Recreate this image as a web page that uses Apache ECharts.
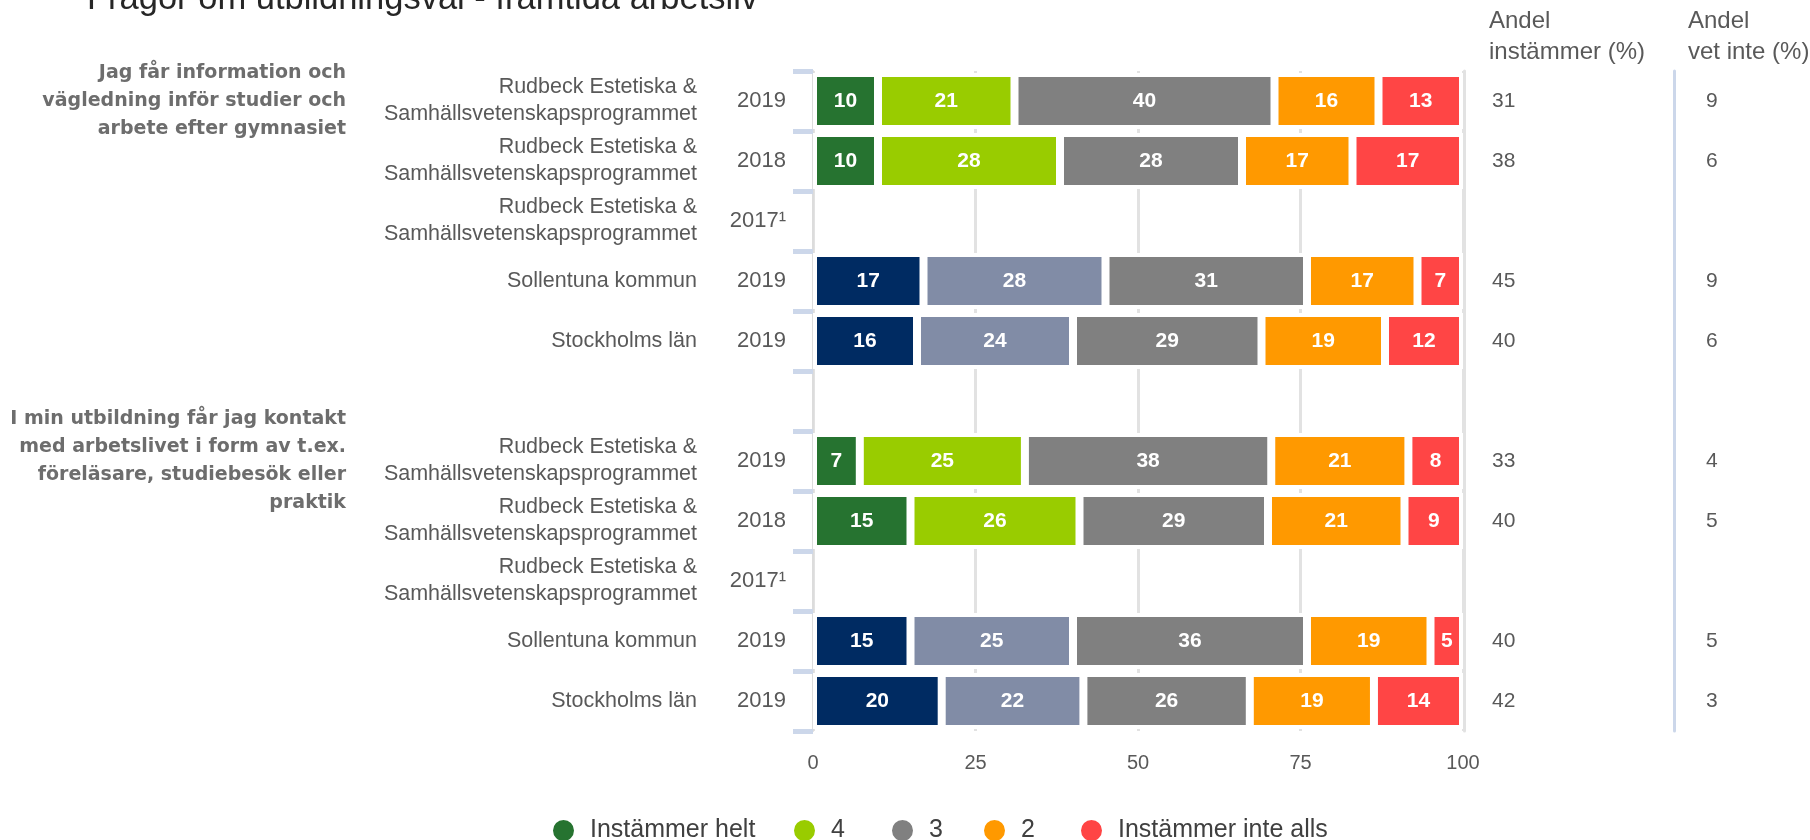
<!DOCTYPE html>
<html>
<head>
<meta charset="utf-8">
<script src="https://cdn.jsdelivr.net/npm/echarts@6.0.0/dist/echarts.min.js"></script>
<style>
  html, body { margin: 0; padding: 0; background: #fff; }
  #chart { width: 1810px; height: 840px; }
</style>
</head>
<body>
<div id="chart"></div>
<script>
// rows, top to bottom
const rowNames = [
  'Rudbeck Estetiska &\nSamhällsvetenskapsprogrammet',
  'Rudbeck Estetiska &\nSamhällsvetenskapsprogrammet',
  'Rudbeck Estetiska &\nSamhällsvetenskapsprogrammet',
  'Sollentuna kommun',
  'Stockholms län',
  '',
  'Rudbeck Estetiska &\nSamhällsvetenskapsprogrammet',
  'Rudbeck Estetiska &\nSamhällsvetenskapsprogrammet',
  'Rudbeck Estetiska &\nSamhällsvetenskapsprogrammet',
  'Sollentuna kommun',
  'Stockholms län'
];
const rowYears = ['2019', '2018', '2017¹', '2019', '2019', '', '2019', '2018', '2017¹', '2019', '2019'];
const questions = [
  'Jag får information och\nvägledning inför studier och\narbete efter gymnasiet',
  '', '', '', '', '',
  'I min utbildning får jag kontakt\nmed arbetslivet i form av t.ex.\nföreläsare, studiebesök eller\npraktik',
  '', '', '', ''
];
const isRegion = [false, false, false, true, true, false, false, false, false, true, true];

const seriesNames = ['Instämmer helt', '4', '3', '2', 'Instämmer inte alls'];
const helt = [10, 10, null, 17, 16, null, 7.2, 15, null, 15, 19.8];
const fyra = [21, 28, null, 28, 24, null, 25.4, 26, null, 25, 21.8];
const tre = [40, 28, null, 31, 29, null, 37.9, 29, null, 36, 25.6];
const tva = [16, 17, null, 17, 19, null, 21.1, 21, null, 19, 19.1];
const inteAlls = [13, 17, null, 7, 12, null, 8.4, 9, null, 5, 13.7];

const andelInstammer = ['31', '38', '', '45', '40', '', '33', '40', '', '40', '42'];
const andelVetInte = ['9', '6', '', '9', '6', '', '4', '5', '', '5', '3'];

const xTicks = [0, 25, 50, 75, 100];

const schoolColors = ['#267330', '#99cc00', '#808080', '#ff9900', '#ff4545'];
const regionColors = ['#002b62', '#818ca6', '#808080', '#ff9900', '#ff4545'];

// left edge of each legend entry (the original spacing is uneven)
const legendLeft = [551, 792, 890, 982, 1079];

const values = [helt, fyra, tre, tva, inteAlls];

const series = seriesNames.map((name, i) => ({
  name,
  type: 'bar',
  stack: 'total',
  yAxisIndex: 0,
  barWidth: 56,
  itemStyle: { color: schoolColors[i], borderColor: '#fff', borderWidth: 4 },
  label: {
    show: true,
    color: '#fff',
    fontWeight: 'bold',
    fontSize: 21,
    formatter: (p) => Math.round(p.value)
  },
  data: values[i].map((v, r) => v == null ? '-' : {
    value: v,
    itemStyle: { color: isRegion[r] ? regionColors[i] : schoolColors[i] }
  })
}));

const legends = seriesNames.map((name, i) => ({
  left: legendLeft[i],
  top: 818,
  padding: 0,
  icon: 'circle',
  itemWidth: 23,
  itemHeight: 23,
  textStyle: { fontSize: 25, color: '#404040', padding: [0, 0, 0, 10] },
  data: [name]
}));

const labelColor = '#595959';

const baseY = {
  type: 'category',
  gridIndex: 0,
  inverse: true,
  axisLine: { show: false },
  axisTick: { show: false },
  splitLine: { show: false }
};

const chart = echarts.init(document.getElementById('chart'));
chart.setOption({
  animation: false,
  textStyle: { fontFamily: 'Liberation Sans, Arial, sans-serif' },
  title: [
    {
      text: 'Frågor om utbildningsval - framtida arbetsliv',
      left: 87,
      top: -18,
      padding: 0,
      textStyle: { fontSize: 34.5, fontWeight: 'normal', color: '#262626' }
    },
    {
      text: 'Andel\ninstämmer (%)',
      left: 1489,
      top: 6,
      padding: 0,
      textStyle: { fontSize: 24, fontWeight: 'normal', color: labelColor, lineHeight: 31 }
    },
    {
      text: 'Andel\nvet inte (%)',
      left: 1688,
      top: 6,
      padding: 0,
      textStyle: { fontSize: 24, fontWeight: 'normal', color: labelColor, lineHeight: 31 }
    }
  ],
  legend: legends,
  grid: { left: 813, right: 347, top: 71, bottom: 109 },
  xAxis: {
    type: 'value',
    min: xTicks[0],
    max: xTicks[xTicks.length - 1],
    interval: 25,
    axisLine: { show: false },
    axisTick: { show: false },
    axisLabel: { fontSize: 20, color: labelColor, margin: 22 },
    splitLine: { show: true, lineStyle: { color: '#e2e2e2', width: 3 } }
  },
  yAxis: [
    {
      ...baseY,
      position: 'left',
      offset: 3,
      data: rowYears,
      axisLine: { show: true, lineStyle: { color: '#dcdcdc', width: 2 } },
      axisTick: { show: true, length: 20, lineStyle: { color: '#ccd7ea', width: 5 } },
      axisLabel: { interval: 0, fontSize: 22, color: labelColor, margin: 24 }
    },
    {
      ...baseY,
      position: 'left',
      offset: 100,
      data: rowNames,
      axisLabel: { interval: 0, fontSize: 21.5, lineHeight: 27, color: labelColor, margin: 16 }
    },
    {
      ...baseY,
      position: 'left',
      offset: 450,
      data: questions,
      axisLabel: {
        interval: 0,
        fontSize: 19,
        lineHeight: 28,
        fontWeight: 'bold',
        fontFamily: 'DejaVu Sans',
        color: '#6d6d6d',
        margin: 17
      }
    },
    {
      ...baseY,
      position: 'right',
      offset: 1,
      z: 5,
      data: andelInstammer,
      axisLine: { show: true, lineStyle: { color: '#e2e2e2', width: 3 } },
      axisLabel: { interval: 0, fontSize: 21, color: labelColor, margin: 28 }
    },
    {
      ...baseY,
      position: 'right',
      offset: 211,
      data: andelVetInte,
      axisLine: { show: true, lineStyle: { color: '#ccd7ea', width: 3 } },
      axisLabel: { interval: 0, fontSize: 21, color: labelColor, margin: 32 }
    }
  ],
  series
});
</script>
</body>
</html>
